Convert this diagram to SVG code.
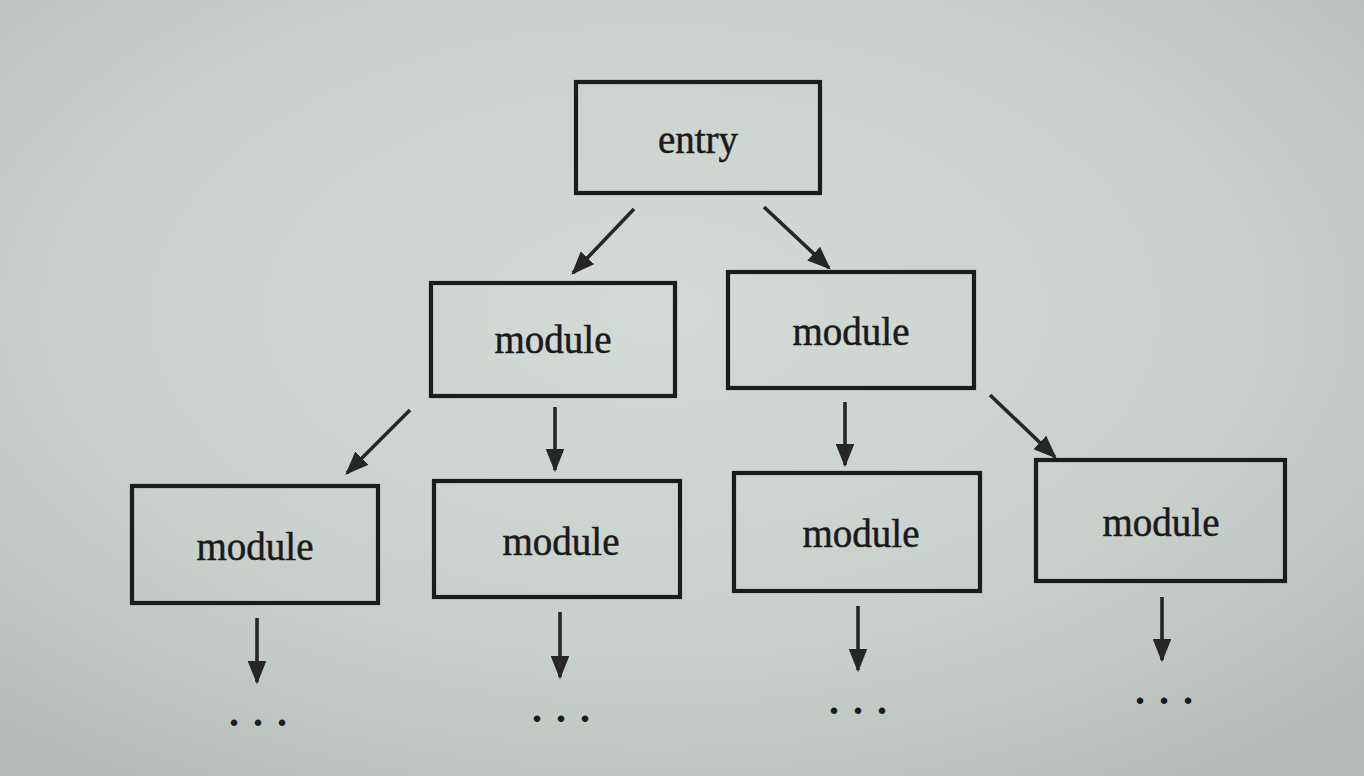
<svg xmlns="http://www.w3.org/2000/svg" width="1364" height="776" viewBox="0 0 1364 776">
  <defs>
    <radialGradient id="bg" cx="0.48" cy="0.4" r="0.75">
      <stop offset="0" stop-color="#d4dad6"/>
      <stop offset="0.6" stop-color="#c9d0cc"/>
      <stop offset="1" stop-color="#b4bbb7"/>
    </radialGradient>
    <marker id="ah" viewBox="0 0 10 10" refX="9" refY="5" markerWidth="6.5" markerHeight="5.2" markerUnits="strokeWidth" orient="auto" preserveAspectRatio="none">
      <path d="M0,0 L10,5 L0,10 Z" fill="#262626"/>
    </marker>
    <style>
      .box { fill: none; stroke: #1c1c1c; stroke-width: 4.2; }
      .lbl { font-family: "Liberation Serif", "Times New Roman", serif; font-size: 39px; fill: #1a1a1a; stroke: #1a1a1a; stroke-width: 0.5; text-anchor: middle; }
      .dots { font-family: "Liberation Serif", "Times New Roman", serif; font-size: 40px; font-weight: bold; fill: #1a1a1a; text-anchor: middle; letter-spacing: 14px; }
      .edge { fill: none; stroke: #262626; stroke-width: 3.6; marker-end: url(#ah); }
    </style>
  </defs>
  <rect x="0" y="0" width="1364" height="776" fill="url(#bg)"/>

  <g id="connectors">
    <line class="edge" x1="634" y1="209" x2="573" y2="273"/>
    <line class="edge" x1="764" y1="207" x2="829" y2="268"/>
    <line class="edge" x1="410" y1="410" x2="347" y2="473"/>
    <line class="edge" x1="555" y1="407" x2="555" y2="470"/>
    <line class="edge" x1="845" y1="402" x2="845" y2="465"/>
    <line class="edge" x1="990" y1="395" x2="1055" y2="457"/>
    <line class="edge" x1="257" y1="618" x2="257" y2="682"/>
    <line class="edge" x1="560" y1="612" x2="560" y2="677"/>
    <line class="edge" x1="858" y1="606" x2="858" y2="670"/>
    <line class="edge" x1="1162" y1="597" x2="1162" y2="660"/>
  </g>

  <g id="entry">
    <rect class="box" x="576" y="82" width="244" height="111"/>
    <text class="lbl" x="698" y="153">entry</text>
  </g>
  <g id="module-1a">
    <rect class="box" x="431" y="283" width="244" height="113"/>
    <text class="lbl" x="553" y="353">module</text>
  </g>
  <g id="module-1b">
    <rect class="box" x="728" y="272" width="246" height="116"/>
    <text class="lbl" x="851" y="345">module</text>
  </g>
  <g id="module-2a">
    <rect class="box" x="132" y="486" width="246" height="117"/>
    <text class="lbl" x="255" y="560">module</text>
  </g>
  <g id="module-2b">
    <rect class="box" x="434" y="481" width="246" height="116"/>
    <text class="lbl" x="561" y="555">module</text>
  </g>
  <g id="module-2c">
    <rect class="box" x="734" y="473" width="246" height="118"/>
    <text class="lbl" x="861" y="547">module</text>
  </g>
  <g id="module-2d">
    <rect class="box" x="1036" y="460" width="249" height="121"/>
    <text class="lbl" x="1161" y="536">module</text>
  </g>

  <g id="more">
    <text class="dots" x="265" y="726">...</text>
    <text class="dots" x="568" y="722">...</text>
    <text class="dots" x="865" y="714">...</text>
    <text class="dots" x="1171" y="704">...</text>
  </g>
</svg>
